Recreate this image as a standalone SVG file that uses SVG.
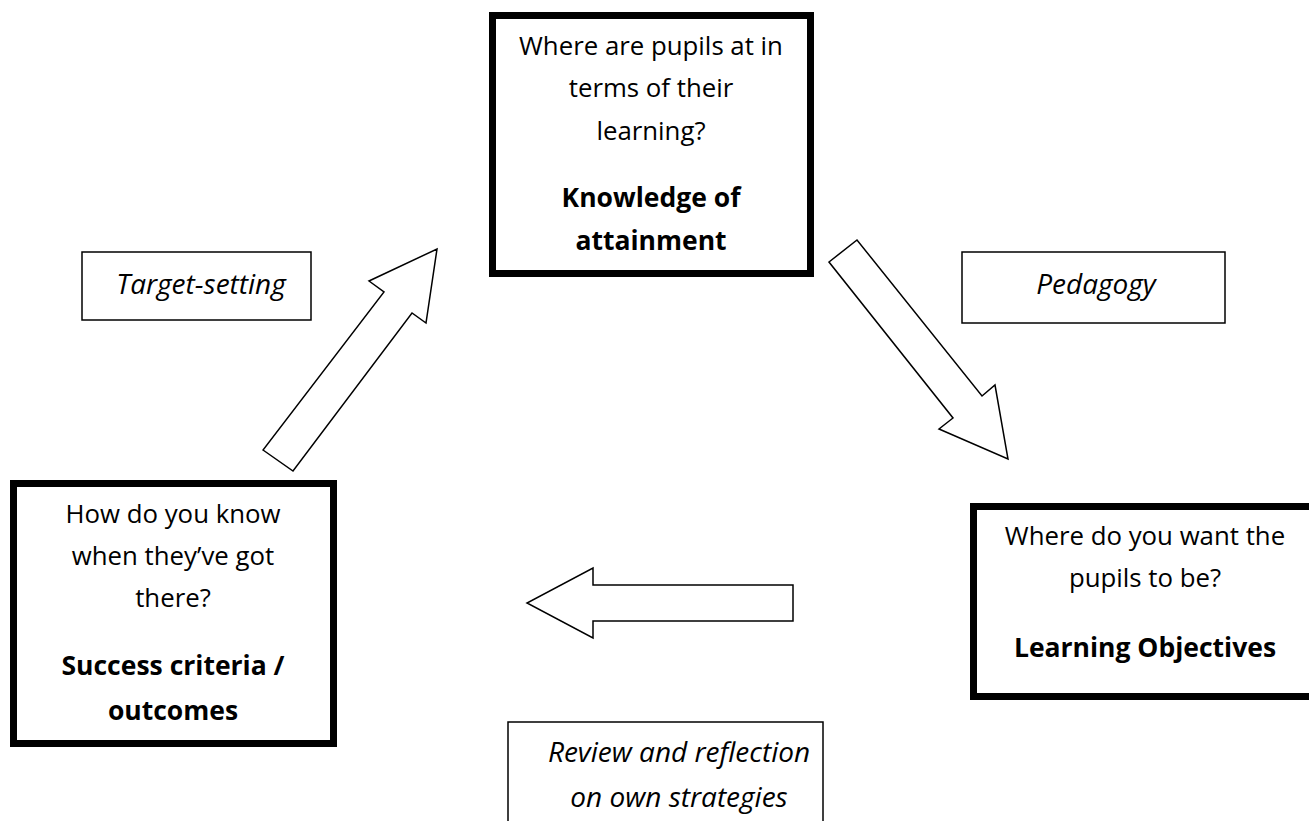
<svg xmlns="http://www.w3.org/2000/svg" width="1309" height="821" viewBox="0 0 1309 821">
<style>
.thick{fill:#fff;stroke:#000;stroke-width:7}
.thin{fill:#fff;stroke:#000;stroke-width:1.5}
.arrow{fill:#fff;stroke:#000;stroke-width:1.5;stroke-linejoin:miter}
text{font-family:"Open Sans","Noto Sans",sans-serif;font-size:25.8px;fill:#000;text-anchor:middle}
.b{font-weight:bold;font-size:26.5px}
.i{font-style:italic;font-size:28px}
</style>
<rect width="1309" height="821" fill="#fff"/>
<g id="connectors">
<polygon class="arrow" points="263,450 293,471 412,313 426,323 437,249 369,281 384,292"/>
<polygon class="arrow" points="829,262 857,240 982,396 995,385 1008,459 939,429 953,418"/>
<polygon class="arrow" points="793,585 593,585 593,568 527,603 593,638 593,621 793,621"/>
</g>
<g id="node-attainment">
<rect class="thick" x="492.5" y="15.5" width="318" height="258"/>
<text x="651" y="55">Where are pupils at in</text>
<text x="651" y="97">terms of their</text>
<text x="651" y="140">learning?</text>
<text class="b" x="651" y="207">Knowledge of</text>
<text class="b" x="651" y="250">attainment</text>
</g>
<g id="node-objectives">
<rect class="thick" x="973.5" y="506.5" width="400" height="190"/>
<text x="1145" y="545">Where do you want the</text>
<text x="1145" y="587">pupils to be?</text>
<text class="b" x="1145" y="657">Learning Objectives</text>
</g>
<g id="node-success">
<rect class="thick" x="13.5" y="483.5" width="320" height="260"/>
<text x="173" y="523">How do you know</text>
<text x="173" y="565">when they’ve got</text>
<text x="173" y="607">there?</text>
<text class="b" x="173" y="675">Success criteria /</text>
<text class="b" x="173" y="720">outcomes</text>
</g>
<g id="label-target">
<rect class="thin" x="82" y="252" width="229" height="68"/>
<text class="i" x="201" y="294">Target-setting</text>
</g>
<g id="label-pedagogy">
<rect class="thin" x="962" y="252" width="263" height="71"/>
<text class="i" x="1096" y="294">Pedagogy</text>
</g>
<g id="label-review">
<rect class="thin" x="508" y="722" width="315" height="120"/>
<text class="i" x="679" y="762">Review and reflection</text>
<text class="i" x="679" y="807">on own strategies</text>
</g>
</svg>
